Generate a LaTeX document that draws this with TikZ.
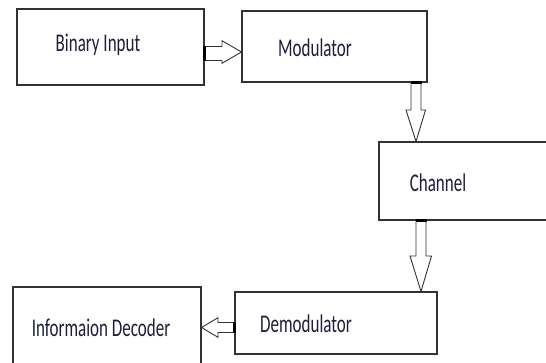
\documentclass[tikz,border=0pt]{standalone}
\usepackage{fontspec}
\setmainfont{Carlito}
\usetikzlibrary{calc}
\definecolor{txtc}{RGB}{30,30,60}
\definecolor{linec}{RGB}{50,50,50}
\tikzset{
  box/.style={draw=linec, line width=1.1pt, fill=white, inner sep=0pt},
  lbl/.style={anchor=base, inner sep=0pt, text=txtc, font=\fontsize{17}{17}\selectfont},
  blockarrow/.style={draw=linec, line width=0.9pt, fill=white, line join=miter},
  arrowbase/.style={draw=black, line width=2.6pt},
}
\newcommand{\tall}[1]{\scalebox{1}[1.5]{#1}}
\begin{document}
\begin{tikzpicture}[x=1pt,y=-1pt]
\useasboundingbox (0,0) rectangle (546,362);
\fill[white] (0,0) rectangle (546,362);
\begin{scope}
\clip (0,0) rectangle (546,362);
% boxes
\node[box, minimum width=187pt, minimum height=76pt] (bin) at (110.5,47) {};
\node[box, minimum width=185pt, minimum height=71pt] (mod) at (334.5,46.5) {};
\node[box, minimum width=180pt, minimum height=78pt] (chan) at (469,181) {};
\node[box, minimum width=202pt, minimum height=62pt] (demod) at (336,323) {};
\node[box, minimum width=188pt, minimum height=90pt] (dec) at (107,332) {};
% labels
\node[lbl] (tbin) at (98,51.7) {\tall{Binary Input}};
\node[lbl] (tmod) at (315,56.7) {\tall{Modulator}};
\node[lbl] (tchan) at (438,191.7) {\tall{Channel}};
\node[lbl] (tdemod) at (306,332.7) {\tall{Demodulator}};
\node[lbl] (tdec) at (101,336) {\tall{Informaion Decoder}};
% arrow bin -> mod (horizontal, right)
\coordinate (a1s) at (bin.east |- 0,53);
\coordinate (a1t) at (mod.west |- 0,52);
\draw[blockarrow] ($(a1s)+(0,-6.5)$) -- (222,46.5) -- (222,40.7) -- (a1t) -- (222,63.3) -- (222,60.5) -- ($(a1s)+(0,7.5)$);
\draw[arrowbase] ($(a1s)+(0,-7)$) -- ($(a1s)+(0,8)$);
% arrow mod -> chan (vertical, down)
\coordinate (a2s) at (416,0 |- mod.south);
\coordinate (a2t) at (416,0 |- chan.north);
\draw[blockarrow] ($(a2s)+(-5,0)$) -- (411,110) -- (406,110) -- (a2t) -- (425.5,110) -- (421,110) -- ($(a2s)+(5,0)$);
\draw[arrowbase] ($(a2s)+(-5.5,0)$) -- ($(a2s)+(5.5,0)$);
% arrow chan -> demod (vertical, down)
\coordinate (a3s) at (421,0 |- chan.south);
\coordinate (a3t) at (421,0 |- demod.north);
\draw[blockarrow] ($(a3s)+(-5,0)$) -- (416,256) -- (410,256) -- (a3t) -- (431.5,256) -- (426,256) -- ($(a3s)+(5,0)$);
\draw[arrowbase] ($(a3s)+(-5.5,0)$) -- ($(a3s)+(5.5,0)$);
% arrow demod -> dec (horizontal, left)
\coordinate (a4s) at (demod.west |- 0,327.5);
\coordinate (a4t) at (dec.east |- 0,327.5);
\draw[blockarrow] ($(a4s)+(0,-5)$) -- (218,322.5) -- (218,317.7) -- (a4t) -- (218,337.3) -- (218,332.5) -- ($(a4s)+(0,5)$);
\draw[arrowbase] ($(a4s)+(0,-5.5)$) -- ($(a4s)+(0,5.5)$);
\end{scope}
\end{tikzpicture}
\end{document}
